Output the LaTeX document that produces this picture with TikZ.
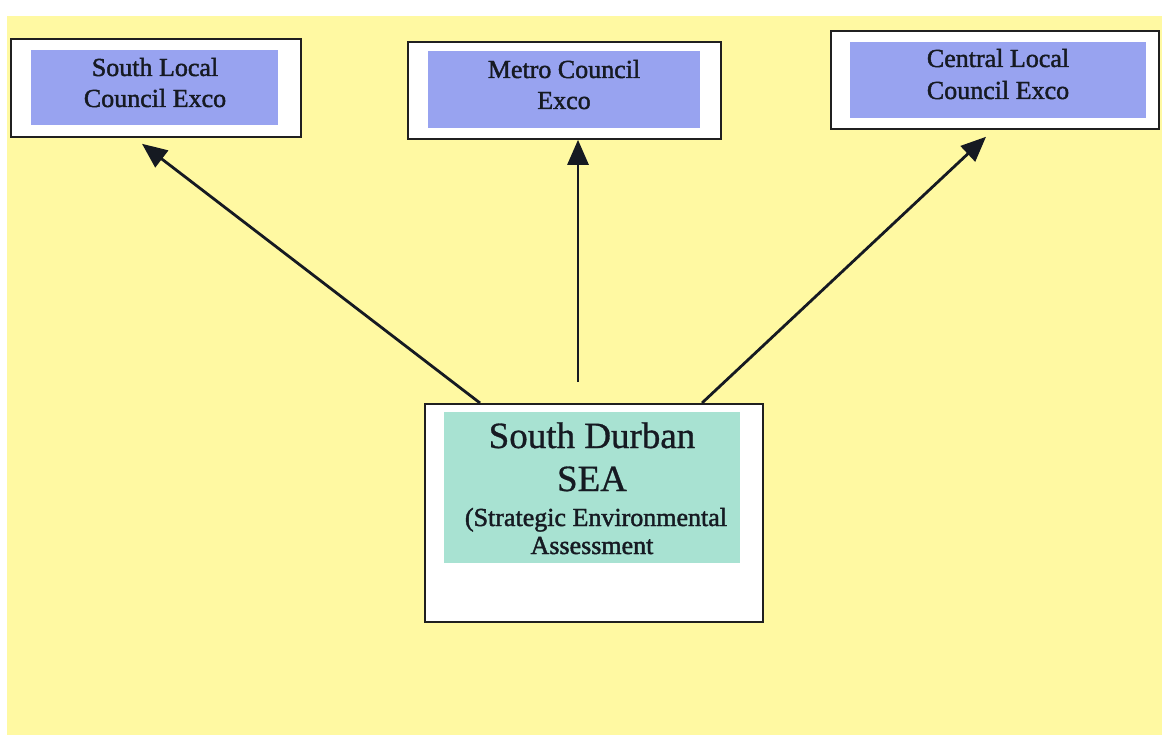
\documentclass[tikz,border=0pt]{standalone}
\usepackage{fontspec}
\setmainfont{Liberation Serif}
\newfontfamily\heavyserif[FakeBold=1.6]{Liberation Serif}
\newfontfamily\titleserif[FakeBold=0.8]{Liberation Serif}
\usetikzlibrary{arrows.meta,calc}

\definecolor{paper}{HTML}{FFF9A2}
\definecolor{exco}{HTML}{98A3F0}
\definecolor{seafill}{HTML}{A8E2D2}
\definecolor{ink}{HTML}{161A22}
\definecolor{boxline}{HTML}{202020}

\begin{document}
\begin{tikzpicture}[x=1pt,y=-1pt,
  frame/.style={draw=boxline,line width=1.8pt,fill=white,inner sep=0pt,anchor=north west},
  lbl/.style={anchor=base,text=ink,inner sep=0pt,font=\heavyserif\fontsize{26}{30}\selectfont},
  biglbl/.style={lbl,font=\titleserif\fontsize{37}{43}\selectfont},
  arr/.style={draw=ink,line width=2.8pt,-{Triangle[length=25pt,width=21pt]}}]

% page and background sheet
\useasboundingbox[fill=white] (0,0) rectangle (1162,735);
\fill[paper] (7,16) rectangle (1162,735);

% council boxes
\node[frame,minimum width=290pt,minimum height=98pt] (south) at (10,38) {};
\node[frame,minimum width=313pt,minimum height=97pt] (metro) at (407,41) {};
\node[frame,minimum width=328pt,minimum height=98pt] (central) at (830,30) {};
\node[frame,minimum width=338pt,minimum height=218pt] (sea) at (424,403) {};

% coloured panels inside the boxes
\fill[exco] (31,50) rectangle (278,125);
\fill[exco] (428,51) rectangle (700,128);
\fill[exco] (850,42) rectangle (1146,118);
\fill[seafill] (444,412) rectangle (740,563);

% labels
\node[lbl] (south1) at (155,76) {South Local};
\node[lbl] (south2) at (155,107) {Council Exco};
\node[lbl] (metro1) at (564,78) {Metro Council};
\node[lbl] (metro2) at (564,109) {Exco};
\node[lbl] (central1) at (998,67) {Central Local};
\node[lbl] (central2) at (998,99) {Council Exco};
\node[biglbl] (sea1) at (592,448) {South Durban};
\node[biglbl] (sea2) at (592,491) {SEA};
\node[lbl] (sea3) at (596,526) {(Strategic Environmental};
\node[lbl] (sea4) at (592,554) {Assessment};

% connector end points
\coordinate (fromL) at ($(sea.north west)+(56,0)$);
\coordinate (fromM) at ($(sea.north west)+(154,-21)$);
\coordinate (fromR) at ($(sea.north west)+(278,0)$);
\coordinate (toL) at ($(south.south west)+(132,6)$);
\coordinate (toM) at ($(metro.south west)+(171,0)$);
\coordinate (toR) at ($(central.south west)+(156,7)$);

% reporting lines
\draw[arr] (fromL) -- (toL);
\draw[arr] (fromM) -- (toM);
\draw[arr] (fromR) -- (toR);
\end{tikzpicture}
\end{document}
